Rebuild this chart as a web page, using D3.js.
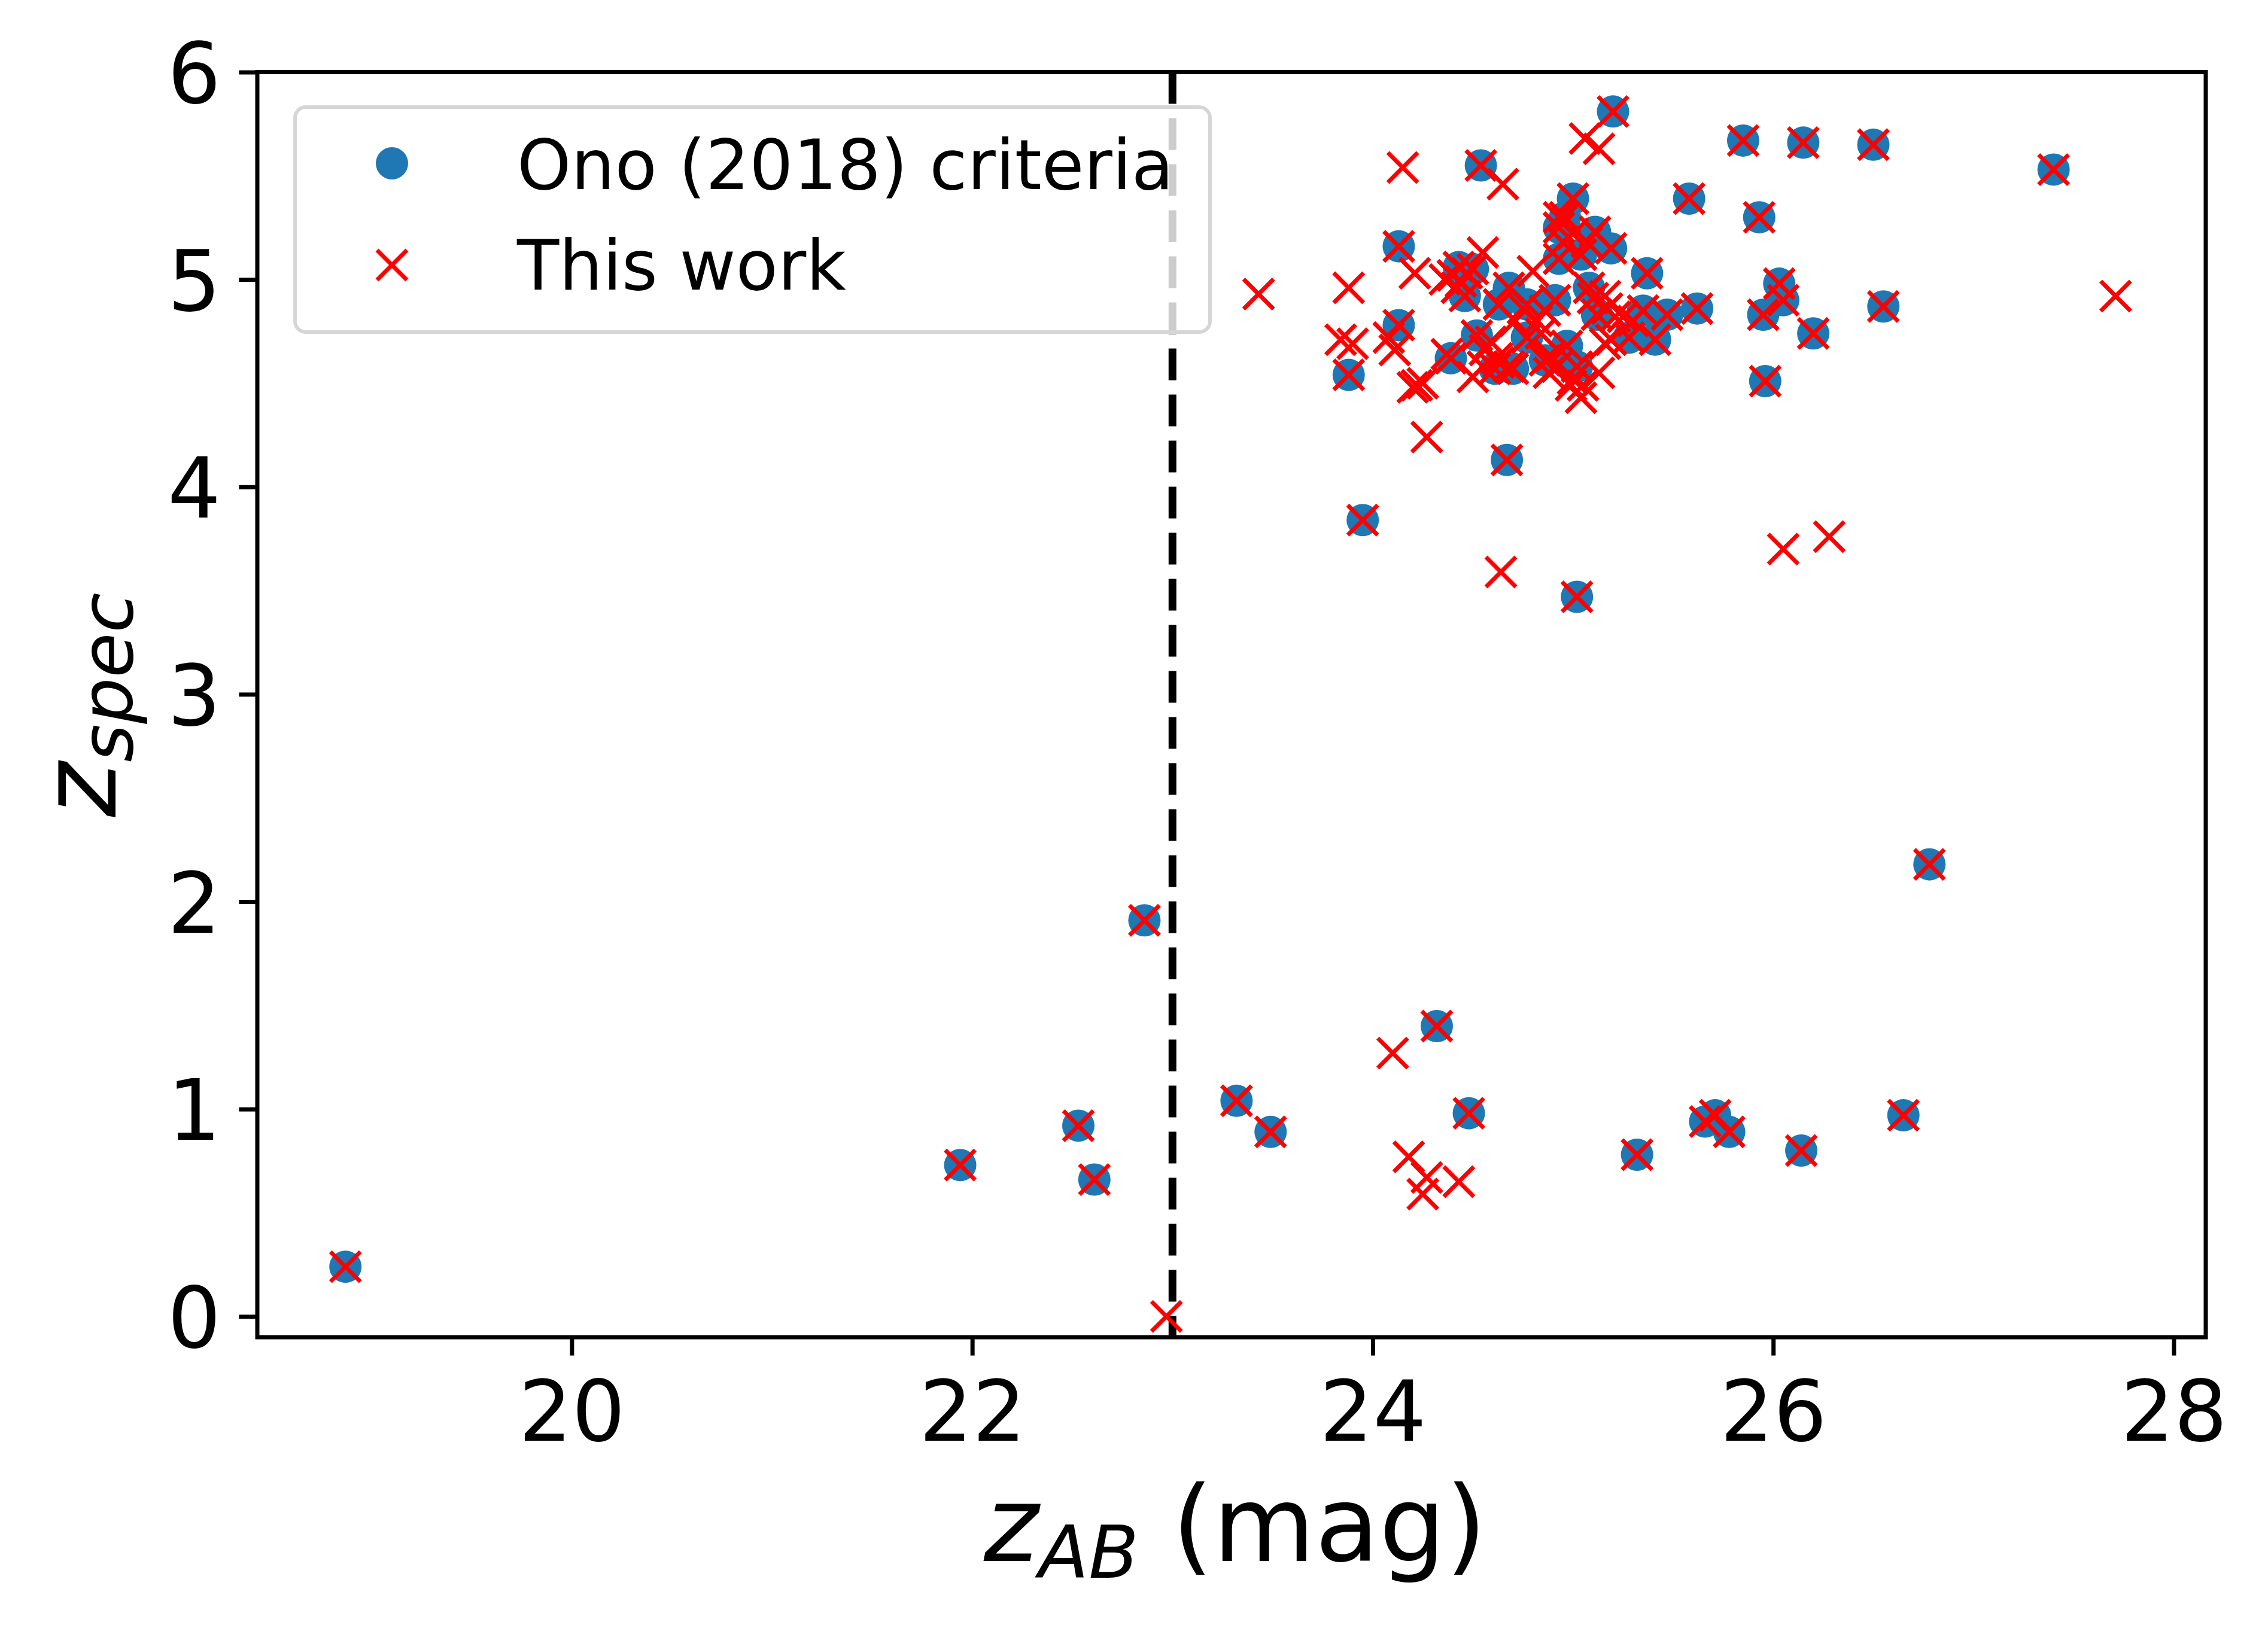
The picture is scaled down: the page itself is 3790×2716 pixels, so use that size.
<!DOCTYPE html>
<html>
<head>
<meta charset="utf-8">
<script src="https://cdnjs.cloudflare.com/ajax/libs/d3/7.8.5/d3.min.js"></script>
<style>
  html, body { margin: 0; padding: 0; background: #fff; }
  svg { display: block; }
</style>
</head>
<body>
<div id="chart"></div>
<script>
// Ono (2018) criteria: z_AB magnitude and spectroscopic redshift
var onoMag = [18.87, 21.94, 22.53, 22.61, 22.86, 23.32, 23.49, 23.95, 24.32, 24.48,
    24.67, 25.02, 25.32, 25.66, 25.71, 25.78, 26.14, 26.65, 26.78, 27.40,
    25.85, 26.15, 26.50, 25.58, 25.93, 25.37, 26.03, 26.05, 25.95, 26.20,
    26.55, 25.96, 25.62, 25.47, 25.35, 25.41, 25.28, 25.20, 24.54, 25.00,
    24.93, 24.96, 25.11, 25.19, 25.04, 24.93, 24.13, 24.43, 24.50, 24.46,
    24.68, 24.77, 24.63, 24.91, 25.08, 25.12, 24.13, 23.88, 24.52, 24.39,
    24.61, 24.70, 24.77, 24.86, 24.97, 25.02];
var onoZspec = [0.24, 0.73, 0.92, 0.66, 1.91, 1.04, 0.89, 3.84, 1.40, 0.98,
    4.13, 3.47, 0.78, 0.94, 0.97, 0.89, 0.80, 0.97, 2.18, 5.53,
    5.67, 5.66, 5.65, 5.39, 5.30, 5.03, 4.98, 4.90, 4.83, 4.74,
    4.87, 4.51, 4.86, 4.83, 4.85, 4.71, 4.72, 5.81, 5.55, 5.39,
    5.25, 5.30, 5.23, 5.15, 5.12, 5.10, 5.16, 5.06, 5.05, 4.92,
    4.96, 4.88, 4.88, 4.90, 4.96, 4.83, 4.78, 4.54, 4.73, 4.62,
    4.57, 4.57, 4.72, 4.61, 4.68, 4.58];

// objects picked only by this work (all of the above are picked too)
var extraMag = [22.97, 24.10, 24.18, 24.27, 24.25, 24.43, 23.43, 24.64, 26.05, 26.28,
    27.71, 25.06, 25.13, 24.15, 24.65, 24.21, 23.88, 24.55, 24.36, 23.84,
    23.90, 24.08, 24.11, 24.20, 24.22, 24.27, 24.50, 25.04, 25.05, 25.16,
    24.40, 24.44, 24.47, 24.42, 24.80, 24.95, 25.00, 25.07, 25.10, 25.16,
    25.17, 24.82, 24.86, 24.84, 24.59, 24.56, 24.62, 24.37, 24.55, 24.63,
    24.68, 24.89, 24.92, 25.00, 25.21, 25.25, 25.30, 25.19, 24.25, 24.71,
    24.75, 24.93, 25.13, 24.88, 24.99];
var extraZspec = [0.00, 1.27, 0.77, 0.67, 0.59, 0.65, 4.93, 3.59, 3.70, 3.76,
    4.92, 5.68, 5.63, 5.54, 5.46, 5.03, 4.96, 5.13, 5.00, 4.71,
    4.69, 4.72, 4.66, 4.48, 4.49, 4.24, 4.53, 4.43, 4.49, 4.69,
    5.02, 4.99, 5.03, 4.96, 5.04, 5.18, 5.22, 5.18, 4.91, 4.92,
    4.86, 4.80, 4.85, 4.74, 4.70, 4.66, 4.62, 4.64, 4.58, 4.60,
    4.58, 4.63, 4.58, 4.52, 4.82, 4.82, 4.80, 4.71, 4.50, 4.80,
    4.86, 5.30, 4.55, 4.55, 4.49];

var workMag = onoMag.concat(extraMag),
    workZspec = onoZspec.concat(extraZspec);

var xTicks = [20, 22, 24, 26, 28],
    yTicks = [0, 1, 2, 3, 4, 5, 6],
    magCut = 23;

(function() {
    var W = 3790, H = 2716;
    var margin = { top: 120.5, left: 430, right: W - 3686, bottom: H - 2235 },
        width = W - margin.left - margin.right,
        height = H - margin.top - margin.bottom;

    var font = "'DejaVu Sans', 'Liberation Sans', sans-serif",
        black = "#000",
        lw = 7,
        tickLen = 30.6;

    var svg = d3.select("#chart")
        .append("svg")
        .attr("width", W)
        .attr("height", H)
        .style("font-family", font);

    svg.append("rect").attr("width", W).attr("height", H).attr("fill", "#fff");

    var g = svg.append("g")
        .attr("transform", "translate(" + margin.left + "," + margin.top + ")");

    var x = d3.scaleLinear().domain([18.43, 28.16]).range([0, width]);
    var y = d3.scaleLinear().domain([-0.1, 6]).range([height, 0]);

    var ono = onoMag.map((m, i) => ({ m: m, z: onoZspec[i] }));
    var work = workMag.map((m, i) => ({ m: m, z: workZspec[i] }));

    // vertical dashed line at the magnitude cut
    g.append("line")
        .attr("x1", x(magCut)).attr("x2", x(magCut))
        .attr("y1", 0).attr("y2", height)
        .attr("stroke", black)
        .attr("stroke-width", 13)
        .attr("stroke-dasharray", "53,24");

    var r = 27, a = 25;
    var xPath = "M" + (-a) + "," + (-a) + "L" + a + "," + a +
        "M" + (-a) + "," + a + "L" + a + "," + (-a);

    g.append("g").selectAll("circle")
        .data(ono)
        .enter().append("circle")
        .attr("cx", d => x(d.m))
        .attr("cy", d => y(d.z))
        .attr("r", r)
        .attr("fill", "#1f77b4");

    g.append("g").selectAll("path")
        .data(work)
        .enter().append("path")
        .attr("transform", d => "translate(" + x(d.m) + "," + y(d.z) + ")")
        .attr("d", xPath)
        .attr("fill", "none")
        .attr("stroke", "#ff0000")
        .attr("stroke-width", 7);

    // axes
    var xAxis = g.append("g")
        .attr("transform", "translate(0," + height + ")")
        .call(d3.axisBottom(x).tickValues(xTicks).tickSize(tickLen).tickFormat(d3.format("d")));
    xAxis.select(".domain").remove();
    xAxis.selectAll(".tick line").attr("stroke", black).attr("stroke-width", lw);
    xAxis.selectAll(".tick text")
        .attr("y", 173).attr("dy", null)
        .attr("font-size", 140).attr("font-family", font).attr("fill", black);

    var yAxis = g.append("g")
        .call(d3.axisLeft(y).tickValues(yTicks).tickSize(tickLen).tickFormat(d3.format("d")));
    yAxis.select(".domain").remove();
    yAxis.selectAll(".tick line").attr("stroke", black).attr("stroke-width", lw);
    yAxis.selectAll(".tick text")
        .attr("x", -61).attr("dy", null).attr("y", 51)
        .attr("font-size", 140).attr("font-family", font).attr("fill", black);

    g.append("rect")
        .attr("width", width).attr("height", height)
        .attr("fill", "none")
        .attr("stroke", black)
        .attr("stroke-width", lw);

    // axis labels
    var xl = svg.append("text")
        .attr("x", 2064).attr("y", 2609)
        .attr("text-anchor", "middle")
        .attr("font-size", 175)
        .attr("fill", black);
    xl.append("tspan").attr("font-style", "italic").text("z");
    xl.append("tspan").attr("font-style", "italic").attr("font-size", 122).attr("dy", 28).text("AB");
    xl.append("tspan").attr("dy", -28).text("\u00a0(mag)");

    var yl = svg.append("text")
        .attr("transform", "translate(193,1178) rotate(-90)")
        .attr("text-anchor", "middle")
        .attr("font-size", 175)
        .attr("fill", black);
    yl.append("tspan").attr("font-style", "italic").text("z");
    yl.append("tspan").attr("font-style", "italic").attr("font-size", 122).attr("dy", 28).text("spec");

    // legend
    var leg = svg.append("g");
    leg.append("rect")
        .attr("x", 493).attr("y", 179)
        .attr("width", 2022 - 493).attr("height", 555 - 179)
        .attr("rx", 18)
        .attr("fill", "#fff").attr("fill-opacity", 0.8)
        .attr("stroke", "#d6d6d6").attr("stroke-width", 6);
    leg.append("circle")
        .attr("cx", 655).attr("cy", 273).attr("r", r)
        .attr("fill", "#1f77b4");
    leg.append("path")
        .attr("transform", "translate(655,443)")
        .attr("d", xPath)
        .attr("fill", "none").attr("stroke", "#ff0000").attr("stroke-width", 7);
    leg.append("text")
        .attr("x", 864).attr("y", 316)
        .attr("font-size", 115).attr("fill", black)
        .text("Ono (2018) criteria");
    leg.append("text")
        .attr("x", 864).attr("y", 484)
        .attr("font-size", 115).attr("fill", black)
        .text("This work");
})();
</script>
</body>
</html>
